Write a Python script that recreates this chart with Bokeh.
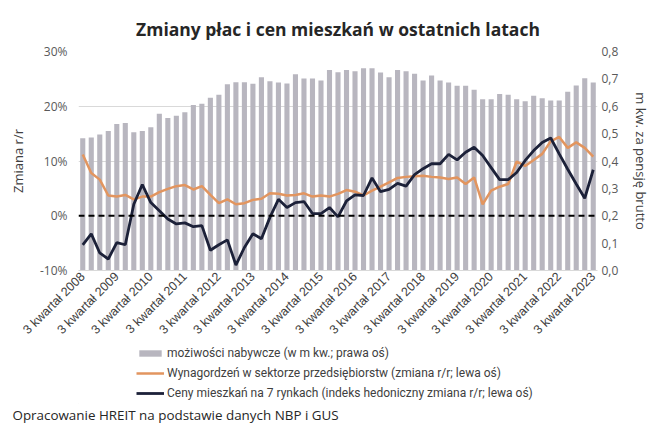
import math
from bokeh.plotting import figure
from bokeh.layouts import column
from bokeh.models import (ColumnDataSource, Range1d, LinearAxis, FixedTicker, Span,
                          Legend, LegendItem, Title, CustomJSTickFormatter)
from bokeh.embed import file_html
from bokeh.resources import INLINE

# ---------------- data (quarterly, 3Q2008 .. 3Q2023) ----------------
tick_labels = ["3 kwartał 2008", "3 kwartał 2009", "3 kwartał 2010", "3 kwartał 2011",
               "3 kwartał 2012", "3 kwartał 2013", "3 kwartał 2014", "3 kwartał 2015",
               "3 kwartał 2016", "3 kwartał 2017", "3 kwartał 2018", "3 kwartał 2019",
               "3 kwartał 2020", "3 kwartał 2021", "3 kwartał 2022", "3 kwartał 2023"]

# affordability, m2 per gross salary (right axis)
affordability = [0.483, 0.486, 0.497, 0.510, 0.535, 0.539, 0.505, 0.510, 0.523, 0.573,
                 0.557, 0.565, 0.578, 0.605, 0.609, 0.631, 0.642, 0.680, 0.688, 0.688,
                 0.682, 0.706, 0.691, 0.687, 0.683, 0.717, 0.701, 0.701, 0.694, 0.732,
                 0.724, 0.732, 0.728, 0.739, 0.739, 0.723, 0.706, 0.732, 0.728, 0.719,
                 0.694, 0.712, 0.694, 0.687, 0.675, 0.675, 0.660, 0.626, 0.626, 0.645,
                 0.642, 0.626, 0.618, 0.638, 0.629, 0.621, 0.621, 0.653, 0.676, 0.702,
                 0.687]

# wages in enterprise sector, y/y % (left axis)
wages = [11.2, 7.8, 6.6, 3.7, 3.5, 3.8, 3.0, 3.5, 3.5, 4.3,
         4.9, 5.4, 5.6, 4.8, 5.4, 3.8, 2.3, 3.0, 2.1, 2.3,
         2.9, 3.1, 4.1, 4.0, 3.7, 3.8, 4.1, 3.5, 3.7, 3.5,
         4.0, 4.7, 4.4, 3.7, 4.6, 5.3, 6.1, 6.9, 7.1, 7.2,
         7.3, 7.1, 7.0, 6.7, 7.0, 5.8, 7.0, 2.1, 4.6, 5.3,
         5.8, 9.9, 9.1, 10.2, 11.3, 13.6, 14.4, 12.4, 13.4, 12.4,
         10.8]

# housing prices on 7 markets, hedonic index y/y % (left axis)
prices = [-5.3, -3.3, -6.8, -7.9, -4.9, -5.3, 2.1, 5.7, 2.4, 0.9,
          -0.6, -1.5, -1.3, -2.0, -1.8, -6.3, -5.3, -4.4, -9.0, -5.8,
          -3.3, -4.2, -0.3, 3.0, 1.5, 2.4, 2.6, 0.4, 0.4, 1.5,
          -0.2, 2.7, 3.8, 3.7, 6.9, 4.4, 4.8, 5.9, 5.4, 7.5,
          8.6, 9.5, 9.5, 11.2, 10.2, 11.6, 12.5, 11.0, 8.8, 6.6,
          6.6, 7.9, 10.1, 11.9, 13.4, 14.2, 11.3, 8.5, 5.8, 3.2,
          8.4]

series_names = ["możiwości nabywcze (w m kw.; prawa oś)",
                "Wynagordzeń w sektorze przedsiębiorstw (zmiana r/r; lewa oś)",
                "Ceny mieszkań na 7 rynkach (indeks hedoniczny zmiana r/r; lewa oś)"]

x_idx = list(range(len(affordability)))

BAR = "#B8B6BF"
ORANGE = "#E2955F"
NAVY = "#1C2139"
TXT = "#595959"
FONT = "Open Sans"

src = ColumnDataSource(dict(x=x_idx, aff=affordability, wages=wages, prices=prices))

p = figure(width=664, height=345, output_backend="svg", toolbar_location=None,
           x_range=Range1d(-0.5, len(x_idx) - 0.5), y_range=Range1d(-10, 30),
           min_border_left=78, min_border_right=67, min_border_top=51, min_border_bottom=75)
p.outline_line_color = None
p.background_fill_color = "white"
p.border_fill_color = "white"

p.extra_y_ranges = {"right": Range1d(0, 0.8)}

bars = p.vbar(x="x", top="aff", bottom=0, width=0.6, source=src, y_range_name="right",
              fill_color=BAR, line_color=None)
lw = p.line(x="x", y="wages", source=src, line_color=ORANGE, line_width=2.5)
lp = p.line(x="x", y="prices", source=src, line_color=NAVY, line_width=2.8)

zero = Span(location=0, dimension="width", line_color="black", line_width=2, line_dash="6 4")
p.add_layout(zero)

# left axis
la = p.yaxis[0]
la.ticker = FixedTicker(ticks=[-10, 0, 10, 20, 30])
la.formatter = CustomJSTickFormatter(code="return tick.toFixed(0) + '%';")
la.axis_label = "Zmiana r/r"
la.major_label_standoff = 11
la.axis_label_standoff = 10

# right axis
ra = LinearAxis(y_range_name="right", ticker=FixedTicker(ticks=[0, 0.1, 0.2, 0.3, 0.4, 0.5, 0.6, 0.7, 0.8]),
                formatter=CustomJSTickFormatter(code="return tick.toFixed(1).replace('.', ',');"),
                axis_label="m kw. za pensję brutto")
ra.major_label_standoff = 4
ra.axis_label_standoff = 11
p.add_layout(ra, "right")

for ax in (la, ra):
    ax.axis_line_color = None
    ax.major_tick_line_color = None
    ax.minor_tick_line_color = None
    ax.major_tick_out = 0
    ax.major_tick_in = 0
    ax.major_label_text_font = FONT
    ax.major_label_text_font_size = "12px"
    ax.major_label_text_color = TXT
    ax.axis_label_text_font = FONT
    ax.axis_label_text_font_size = "13px"
    ax.axis_label_text_font_style = "normal"
    ax.axis_label_text_color = "#404040"

# bottom axis
xa = p.xaxis[0]
xa.ticker = FixedTicker(ticks=[i * 4 for i in range(len(tick_labels))])
xa.major_label_overrides = {i * 4: lbl for i, lbl in enumerate(tick_labels)}
xa.major_label_orientation = math.pi / 4
xa.major_label_text_font = "Liberation Sans"
xa.major_label_text_font_size = "12.5px"
xa.major_label_text_color = "#404040"
xa.axis_line_color = "#D9D9D9"
xa.major_tick_line_color = None
xa.minor_tick_line_color = None
xa.major_tick_out = 0
xa.major_tick_in = 0
xa.major_label_standoff = 4

p.xgrid.grid_line_color = None
p.ygrid.ticker = FixedTicker(ticks=[-10, 10, 20, 30])
p.ygrid.grid_line_color = "#D9D9D9"
p.ygrid.grid_line_width = 1

# title
p.title = Title(text="Zmiany płac i cen mieszkań w ostatnich latach", align="center",
                vertical_align="top",
                text_font=FONT, text_font_size="17.5px", text_font_style="bold",
                text_color="#262626", standoff=18)

# ---------------- legend + source note panel ----------------
q = figure(width=664, height=84, output_backend="svg", toolbar_location=None,
           x_range=Range1d(0, 1), y_range=Range1d(0, 1),
           x_axis_location=None, y_axis_location=None,
           min_border_left=78, min_border_right=67, min_border_top=0, min_border_bottom=26)
q.outline_line_color = None
q.xgrid.visible = False
q.ygrid.visible = False
q.border_fill_color = "white"
q.background_fill_color = "white"

# legend key glyphs: a single off-canvas point each, so nothing is drawn in the panel
key = ColumnDataSource(dict(x=[-5], y=[-5], top=[-5]))
kb = q.vbar(x="x", top="top", width=0.5, source=key, fill_color=BAR, line_color=None)
kw = q.line(x="x", y="y", source=key, line_color=ORANGE, line_width=2.5)
kp = q.line(x="x", y="y", source=key, line_color=NAVY, line_width=2.8)

legend = Legend(items=[LegendItem(label=series_names[0], renderers=[kb]),
                       LegendItem(label=series_names[1], renderers=[kw]),
                       LegendItem(label=series_names[2], renderers=[kp])],
                location=(58, 2), orientation="vertical")
legend.border_line_color = None
legend.background_fill_alpha = 0
legend.label_text_font = "Roboto"
legend.label_text_font_size = "12px"
legend.label_text_color = "#404040"
legend.glyph_width = 28
legend.glyph_height = 8
legend.label_height = 16
legend.spacing = 4
legend.padding = 0
legend.margin = 0
legend.label_standoff = 3
q.add_layout(legend)

q.title = Title(text="Opracowanie HREIT na podstawie danych NBP i GUS", align="left",
                offset=-66, text_font=FONT, text_font_size="13.4px", text_font_style="normal",
                text_color="#262626", standoff=0)
q.title_location = "below"

open("out.html", "w").write(file_html(column(p, q, spacing=0), INLINE))
